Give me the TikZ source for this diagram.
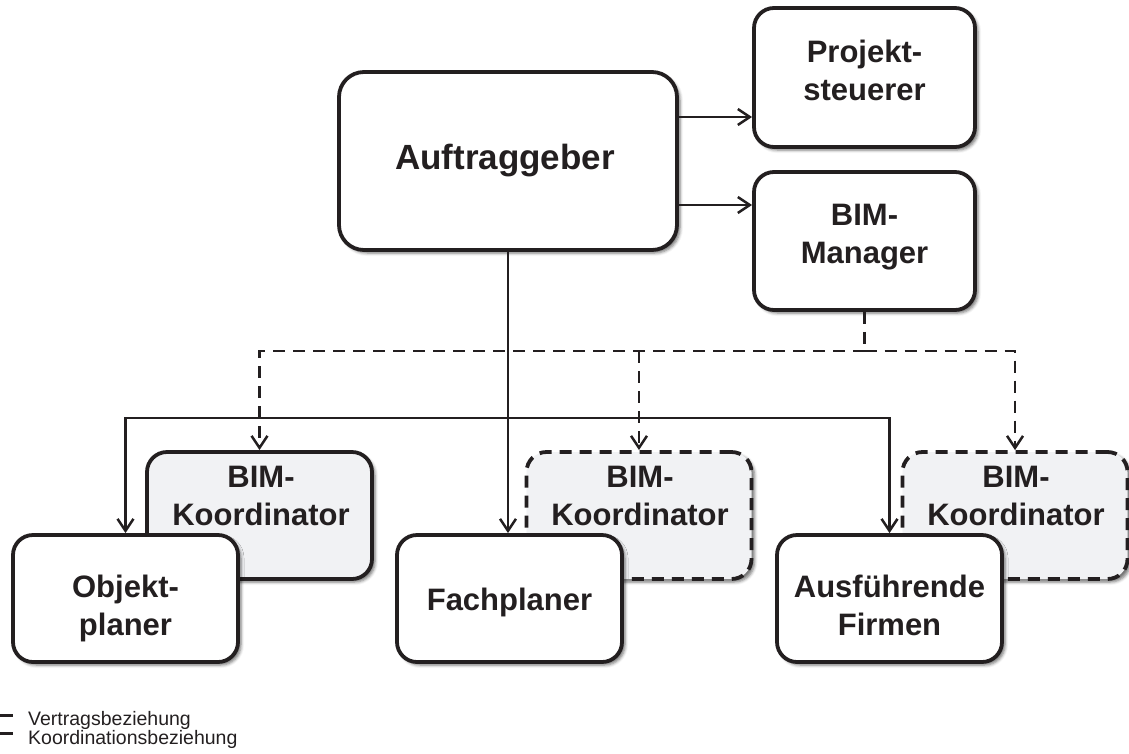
\documentclass[tikz,border=0pt]{standalone}
\usepackage{fontspec}
\setmainfont{Liberation Sans}
\usetikzlibrary{arrows.meta,shadows.blur}
\definecolor{ink}{HTML}{231F20}
\definecolor{coordfill}{HTML}{F1F2F4}
\begin{document}
\begin{tikzpicture}[x=1pt,y=-1pt,
  box/.style={draw=ink, line width=3.8pt, rounded corners=20pt, fill=white,
    inner sep=0pt, minimum width=225pt, minimum height=127pt,
    blur shadow={shadow xshift=3pt, shadow yshift=-3pt,
      shadow blur radius=3pt, shadow opacity=55}},
  coordbox/.style={box, fill=coordfill},
  dashedbox/.style={coordbox, dash pattern=on 12pt off 8pt},
  label/.style={text=ink, align=center, anchor=base, inner sep=0pt,
    font=\fontsize{31}{38}\selectfont\bfseries},
  tip/.style={-{Straight Barb[length=12pt,width=16pt,line width=2.5pt]}},
  contract/.style={draw=ink, line width=2.2pt},
  coordination/.style={draw=ink, line width=2.7pt, dash pattern=on 12pt off 8pt},
  legendtext/.style={text=ink, anchor=base west, inner sep=0pt,
    font=\fontsize{19.5}{19.5}\selectfont}]
\useasboundingbox (0,0) rectangle (1129,753);

% coordinator boxes sit behind the party boxes
\node[coordbox]  (bk1) at (259.5,515.5) {};
\node[dashedbox] (bk2) at (639,515.5) {};
\node[dashedbox] (bk3) at (1015,515.5) {};

% parties
\node[box, rounded corners=25pt, minimum width=338pt, minimum height=178pt] (ag) at (508,161) {};
\node[box, minimum width=221pt, minimum height=139pt] (ps) at (864.5,77.5) {};
\node[box, minimum width=221pt, minimum height=138pt] (bm) at (864.5,241) {};
\node[box] (op) at (125.5,598.5) {};
\node[box] (fp) at (509.5,598.5) {};
\node[box] (af) at (889.5,598.5) {};

% box texts (base anchor sits on the last line)
\node[label, font=\fontsize{35}{38}\selectfont\bfseries] (tag) at (505,169) {Auftraggeber};
\node[label] (tps) at (864.5,100) {Projekt-\\steuerer};
\node[label] (tbm) at (864.5,263) {BIM-\\Manager};
\node[label] (tbk1) at (261,525) {BIM-\\Koordinator};
\node[label] (tbk2) at (640,525) {BIM-\\Koordinator};
\node[label] (tbk3) at (1016,525) {BIM-\\Koordinator};
\node[label] (top) at (125.5,635) {Objekt-\\planer};
\node[label] (tfp) at (509.5,610) {Fachplaner};
\node[label] (taf) at (889.5,635) {Ausführende\\Firmen};

% routing levels
\coordinate (r1) at (0,117);
\coordinate (r2) at (0,205);
\coordinate (dbus) at (0,351);
\coordinate (sbus) at (0,418);

% contractual relations
\draw[contract, tip] (ag.east |- r1) -- (ps.west |- r1);
\draw[contract, tip] (ag.east |- r2) -- (bm.west |- r2);
\draw[contract, tip] (ag.south) -- (ag.south |- fp.north);
\draw[contract, tip] (ag.south |- sbus) -| (op.north);
\draw[contract, tip] (ag.south |- sbus) -| (af.north);

% coordination relations
\draw[coordination] (bm.south) -- (bm.south |- dbus);
\draw[coordination, tip] (bm.south |- dbus) -| (bk1.north);
\draw[coordination, tip] (bm.south |- dbus) -| (bk3.north);
\draw[coordination, tip] (bk2.north |- dbus) -- (bk2.north);

% legend
\coordinate (lg1) at (0,715);
\coordinate (lg2) at (0,733);
\draw[ink, line width=3pt] (lg1) -- ++(13,0);
\draw[ink, line width=3pt] (lg2) -- ++(13,0);
\node[legendtext] (lt1) at (28,725) {Vertragsbeziehung};
\node[legendtext] (lt2) at (28,744) {Koordinationsbeziehung};
\end{tikzpicture}
\end{document}
